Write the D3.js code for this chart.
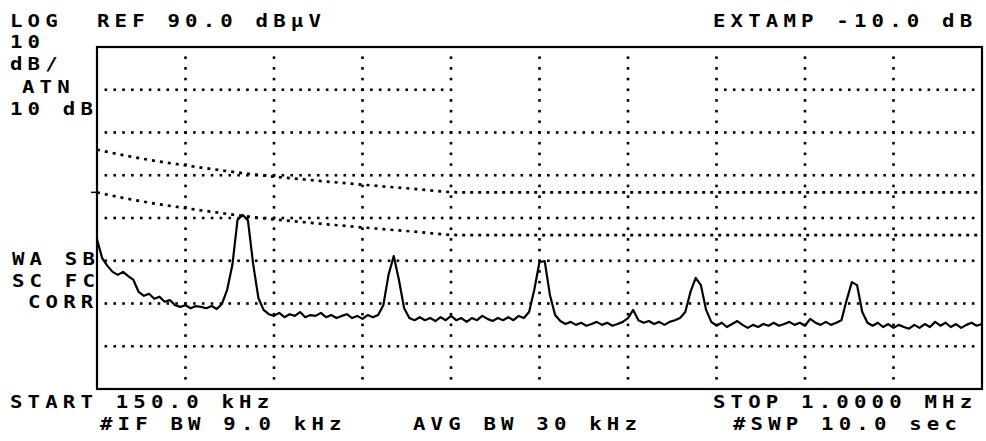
<!DOCTYPE html>
<html>
<head>
<meta charset="utf-8">
<script src="https://cdn.jsdelivr.net/npm/d3@7"></script>
<style>
  html, body { margin: 0; padding: 0; background: #fff; }
  svg { display: block; }
  text { font-family: "DejaVu Sans Mono", monospace; font-size: 18px; font-weight: bold; fill: #000; letter-spacing: 4.5px; }
</style>
</head>
<body>
<svg id="chart" width="986" height="441"></svg>
<script>
// ---- data ----
const freqStartKHz = 150;
const freqStopKHz = 1000;
const sweepStepKHz = 5;
const refLevelDb = 90;
const dbPerDiv = 10;
const numDivY = 8;
const numDivX = 10;

// measured trace, dBµV, one value every 5 kHz from 150 kHz to 1000 kHz
const traceDb = [
  45.0, 40.6, 38.8, 37.4, 36.7, 37.4, 36.4, 35.5, 32.7, 31.8,
  32.3, 31.1, 31.6, 30.4, 30.8, 29.6, 29.2, 29.6, 28.9, 29.4,
  29.2, 28.9, 29.4, 28.7, 29.9, 33.2, 39.0, 49.6, 50.7, 49.4,
  39.2, 31.3, 28.5, 27.5, 27.1, 27.8, 26.8, 27.5, 27.1, 28.0,
  26.8, 27.3, 27.1, 27.8, 26.8, 27.3, 26.6, 27.1, 27.5, 26.6,
  27.1, 26.4, 27.3, 26.8, 27.3, 29.6, 36.7, 41.1, 35.5, 28.9,
  26.6, 26.1, 26.8, 26.1, 26.6, 25.9, 26.8, 26.1, 27.1, 26.1,
  26.6, 25.7, 26.6, 26.1, 27.1, 26.4, 25.9, 26.6, 26.1, 26.8,
  26.1, 27.1, 26.6, 28.0, 33.2, 39.7, 39.9, 32.0, 27.3, 25.9,
  25.2, 25.7, 25.0, 25.5, 24.8, 25.2, 25.7, 25.0, 25.5, 24.8,
  25.2, 25.7, 26.6, 28.5, 26.1, 25.5, 25.9, 25.2, 25.7, 25.0,
  25.7, 26.1, 26.6, 28.0, 32.7, 36.0, 34.3, 28.5, 25.7, 24.8,
  25.5, 24.5, 25.2, 25.9, 25.0, 24.3, 25.0, 24.5, 25.2, 24.8,
  25.5, 24.8, 25.2, 25.7, 25.0, 25.5, 24.8, 26.4, 25.5, 25.0,
  25.7, 25.0, 25.5, 26.1, 30.8, 35.0, 34.3, 28.0, 25.5, 24.8,
  25.5, 24.5, 25.2, 24.3, 25.0, 24.5, 24.1, 25.0, 24.3, 25.2,
  24.5, 25.7, 24.8, 25.5, 24.5, 25.2, 24.3, 25.0, 25.5, 24.8,
  25.2
];

// limit lines
const limitFreqKHz = [150, 175, 200, 250, 300, 350, 400, 450, 500, 1000];
const qpLimitDb    = [66, 64.7, 63.6, 61.8, 60.2, 59.0, 57.9, 56.9, 56, 56];
const avgLimitDb   = [56, 54.7, 53.6, 51.8, 50.2, 49.0, 47.9, 46.9, 46, 46];

// annotation texts
const topTexts = ["LOG", "REF 90.0 dBµV", "EXTAMP -10.0 dB"];
const leftTexts = ["10", "dB/", "ATN", "10 dB"];
const leftMidTexts = ["WA SB", "SC FC", "CORR"];
const bottomTexts = ["START 150.0 kHz", "#IF BW 9.0 kHz", "AVG BW 30 kHz", "STOP 1.0000 MHz", "#SWP 10.0  sec"];

// ---- layout ----
const L = 97, R = 982, T = 47, B = 389;
const svg = d3.select("#chart");

const x = d3.scaleLinear().domain([freqStartKHz, freqStopKHz]).range([L, R]);
const y = d3.scaleLinear().domain([refLevelDb - numDivY * dbPerDiv, refLevelDb]).range([B, T]);

const freqs = d3.range(traceDb.length).map(i => freqStartKHz + i * sweepStepKHz);

// grid (dotted)
const divW = (freqStopKHz - freqStartKHz) / numDivX;
const g = svg.append("g");
const dot = 2.6;
for (let j = 1; j < numDivY; j++) {
  const db = refLevelDb - j * dbPerDiv;
  for (let k = 1; k < numDivX * 10; k++) {
    const f = freqStartKHz + k * divW / 10;
    if (j === 1 && k > 39 && k < 70) continue; // blank part of the first grid line
    g.append("rect").attr("x", x(f) - dot / 2).attr("y", y(db) - dot / 2)
      .attr("width", dot).attr("height", dot).attr("fill", "#000");
  }
}
for (let i = 1; i < numDivX; i++) {
  const f = freqStartKHz + i * divW;
  for (let k = 1; k < numDivY * 4; k++) {
    const db = refLevelDb - k * dbPerDiv / 4;
    g.append("rect").attr("x", x(f) - dot / 2).attr("y", y(db) - dot / 2)
      .attr("width", dot).attr("height", dot).attr("fill", "#000");
  }
}

// limit lines
const limLine = d3.line().x(d => x(d[0])).y(d => y(d[1])).curve(d3.curveMonotoneX);
[qpLimitDb, avgLimitDb].forEach(arr => {
  svg.append("path")
    .attr("d", limLine(limitFreqKHz.map((f, i) => [f, arr[i]])))
    .attr("fill", "none").attr("stroke", "#000")
    .attr("stroke-width", 2.7).attr("stroke-dasharray", "3 5");
});
svg.append("line").attr("x1", L - 6).attr("x2", L).attr("y1", y(avgLimitDb[0])).attr("y2", y(avgLimitDb[0]))
  .attr("stroke", "#000").attr("stroke-width", 1.5);

// trace
const traceLine = d3.line().x((d, i) => x(freqs[i])).y(d => y(d));
svg.append("path").attr("d", traceLine(traceDb))
  .attr("fill", "none").attr("stroke", "#000").attr("stroke-width", 2.2).attr("stroke-linejoin", "round");

// frame
svg.append("rect").attr("x", L).attr("y", T).attr("width", R - L).attr("height", B - T)
  .attr("fill", "none").attr("stroke", "#000").attr("stroke-width", 2.2);

// texts (plotter-style: glyphs widened horizontally)
const sx = 1.15;
const txt = (s, tx, ty) => svg.append("text")
  .attr("transform", `translate(${tx},${ty}) scale(${sx},1)`).text(s);
txt(topTexts[0], 10, 27);
txt(topTexts[1], 97, 27);
txt(topTexts[2], 713, 27);
txt(leftTexts[0], 10, 48);
txt(leftTexts[1], 10, 70);
txt(leftTexts[2], 22, 93);
txt(leftTexts[3], 10, 115);
txt(leftMidTexts[0], 12, 265);
txt(leftMidTexts[1], 12, 287);
txt(leftMidTexts[2], 28, 308);
txt(bottomTexts[0], 10, 408);
txt(bottomTexts[1], 100, 430);
txt(bottomTexts[2], 413, 430);
txt(bottomTexts[3], 713, 408);
txt(bottomTexts[4], 733, 430);
</script>
</body>
</html>
